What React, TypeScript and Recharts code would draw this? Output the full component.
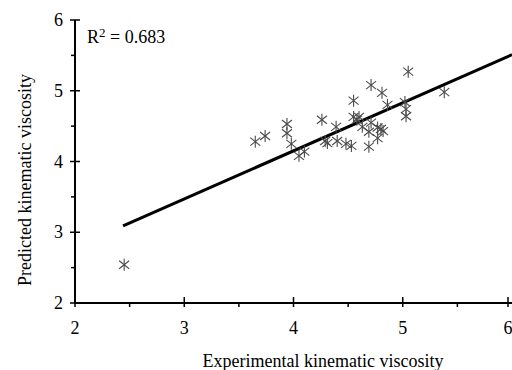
import { ScatterChart, Scatter, XAxis, YAxis, Label } from 'recharts';

const expX = [2.45, 3.65, 3.74, 3.94, 3.94, 3.98, 4.05, 4.1, 4.26, 4.29, 4.31, 4.39, 4.4, 4.48, 4.53, 4.55, 4.55, 4.58, 4.6, 4.63, 4.71, 4.71, 4.69, 4.69, 4.77, 4.77, 4.81, 4.8, 4.82, 4.86, 5.02, 5.03, 5.03, 5.05, 5.38];
const predY = [2.54, 4.28, 4.36, 4.53, 4.4, 4.25, 4.08, 4.14, 4.59, 4.29, 4.26, 4.49, 4.29, 4.25, 4.22, 4.86, 4.63, 4.59, 4.63, 4.49, 5.08, 4.55, 4.42, 4.21, 4.33, 4.48, 4.97, 4.46, 4.43, 4.8, 4.84, 4.74, 4.64, 5.27, 4.98];

// fitted line end points
const fitX = [2.44, 6];
const fitY = [3.09, 5.51];

const axisTicks = [2, 2.5, 3, 3.5, 4, 4.5, 5, 5.5, 6];

const FONT = '"Liberation Serif", "Times New Roman", serif';

const points = expX.map((x, i) => ({ x, y: predY[i] }));
const fit = fitX.map((x, i) => ({ x, y: fitY[i] }));

const Asterisk = (props: any) => {
  const { cx, cy } = props;
  return (
    <g stroke="#4a4a4a" strokeWidth={1.1}>
      <line x1={cx} y1={cy - 6} x2={cx} y2={cy + 6} />
      <line x1={cx - 5} y1={cy - 4} x2={cx + 5} y2={cy + 4} />
      <line x1={cx - 5} y1={cy + 4} x2={cx + 5} y2={cy - 4} />
    </g>
  );
};

const XTick = (props: any) => {
  const { x, y, payload } = props;
  const major = Number.isInteger(payload.value);
  return (
    <g>
      <line x1={x} x2={x} y1={major ? y - 6 : y} y2={y + 4} stroke="#000" strokeWidth={1.5} />
      {major && (
        <text x={x} y={y + 31} textAnchor="middle" fontSize={18} fontFamily={FONT} fill="#000">
          {payload.value}
        </text>
      )}
    </g>
  );
};

const YTick = (props: any) => {
  const { x, y, payload } = props;
  const major = Number.isInteger(payload.value);
  return (
    <g>
      <line x1={major ? x - 5 : x - 4} x2={major ? x + 5 : x} y1={y} y2={y} stroke="#000" strokeWidth={1.5} />
      {major && (
        <text x={x - 12} y={y + 6} textAnchor="end" fontSize={18} fontFamily={FONT} fill="#000">
          {payload.value}
        </text>
      )}
    </g>
  );
};

export default function App() {
  return (
    <div style={{ position: 'absolute', left: 0, top: 0, width: 512, height: 370, background: '#fff' }}>
      <ScatterChart width={512} height={370} margin={{ top: 20, right: 0, bottom: 0, left: 0 }}>
        <XAxis
          type="number"
          dataKey="x"
          domain={[2, 6]}
          ticks={axisTicks}
          height={67}
          tickSize={0}
          tickMargin={0}
          tickLine={false}
          tick={<XTick />}
          axisLine={{ stroke: '#000', strokeWidth: 2 }}
        >
          <Label
            content={() => (
              <text x={323} y={367} textAnchor="middle" fontSize={18} fontFamily={FONT} fill="#000">
                Experimental kinematic viscosity
              </text>
            )}
          />
        </XAxis>
        <YAxis
          type="number"
          dataKey="y"
          domain={[2, 6]}
          ticks={axisTicks}
          width={75}
          tickSize={0}
          tickMargin={0}
          tickLine={false}
          tick={<YTick />}
          axisLine={{ stroke: '#000', strokeWidth: 2 }}
        >
          <Label
            content={() => (
              <text
                transform="translate(31,180) rotate(-90)"
                textAnchor="middle"
                fontSize={18}
                fontFamily={FONT}
                fill="#000"
              >
                Predicted kinematic viscosity
              </text>
            )}
          />
        </YAxis>
        <Scatter
          data={fit}
          line={{ stroke: '#000', strokeWidth: 3 }}
          shape={() => <g />}
          isAnimationActive={false}
        />
        <Scatter data={points} shape={<Asterisk />} isAnimationActive={false} />
      </ScatterChart>
      <div
        style={{
          position: 'absolute',
          left: 87,
          top: 26,
          fontFamily: FONT,
          fontSize: 18,
          color: '#000',
          lineHeight: '22px',
        }}
      >
        R<sup style={{ fontSize: 13, verticalAlign: 'top', position: 'relative', top: -4 }}>2</sup> = 0.683
      </div>
    </div>
  );
}
